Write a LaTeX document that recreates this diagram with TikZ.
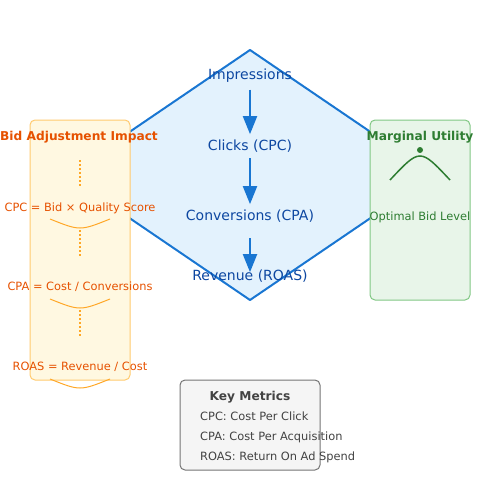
\documentclass[tikz,border=0pt]{standalone}
\usepackage{fontspec}
\setmainfont{DejaVu Sans}
\usetikzlibrary{arrows.meta,shapes}
\definecolor{hexfill}{HTML}{E3F2FD}
\definecolor{hexline}{HTML}{1976D2}
\definecolor{hextext}{HTML}{0D47A1}
\definecolor{bidfill}{HTML}{FFF8E1}
\definecolor{bidline}{HTML}{FFCA6E}
\definecolor{bidtext}{HTML}{E65100}
\definecolor{biddots}{HTML}{FFA726}
\definecolor{utilfill}{HTML}{E8F5E9}
\definecolor{utilline}{HTML}{81C784}
\definecolor{utiltext}{HTML}{2E7D32}
\definecolor{keyfill}{HTML}{F5F5F5}
\definecolor{keyline}{HTML}{757575}
\definecolor{keytext}{HTML}{424242}
\tikzset{
    flowtext/.style={text=hextext, font=\fontsize{14}{16}\selectfont, anchor=base, inner sep=0pt},
    flowarrow/.style={draw=hexline, line width=2pt, -{Triangle[width=14pt,length=18pt]}},
    panel/.style={rectangle, rounded corners=5pt, line width=1pt, minimum width=100pt},
    paneltitle/.style={font=\fontsize{12.2}{14}\selectfont\bfseries, anchor=base, inner sep=0pt},
    small/.style={font=\fontsize{11.4}{13}\selectfont, anchor=base, inner sep=0pt}
}
\begin{document}
\begin{tikzpicture}[x=1pt,y=-1pt]
        \useasboundingbox (0,0) rectangle (500,500);
        \draw[fill=hexfill, draw=hexline, line width=2pt, line join=round]
            (250,50) -- (375,135) -- (375,215) -- (250,300) -- (125,215) -- (125,135) -- cycle;
        \node[flowtext] (imp) at (250,80) {Impressions};
        \node[flowtext] (clk) at (250,150) {Clicks (CPC)};
        \node[flowtext] (conv) at (250,220) {Conversions (CPA)};
        \node[flowtext] (rev) at (250,280) {Revenue (ROAS)};
        \draw[flowarrow, shorten <=6.5pt, shorten >=5pt] (imp.south) -- (clk.north);
        \draw[flowarrow, shorten <=6pt, shorten >=5pt] (clk.south) -- (conv.north);
        \draw[flowarrow, shorten <=16pt, shorten >=-3pt] (conv.south) -- (rev.north);

        \node[panel, draw=bidline, fill=bidfill, minimum height=260pt] (bidbox) at (80,250) {};
        \node[paneltitle, text=bidtext] (bidtitle) at (79,140) {Bid Adjustment Impact};
        \node[small, text=bidtext] (cpc) at (80,211) {CPC = Bid × Quality Score};
        \node[small, text=bidtext] (cpa) at (80,290) {CPA = Cost / Conversions};
        \node[small, text=bidtext] (roas) at (80,370) {ROAS = Revenue / Cost};
        \foreach \y in {160,230,310}
            \draw[biddots, line width=2pt, dash pattern=on 2pt off 2pt] (80,\y) -- (80,\y+27);
        \foreach \y in {219,299,379}
            \draw[biddots, line width=1pt] (50,\y) .. controls (80,\y+12) .. (110,\y);

        \node[panel, draw=utilline, fill=utilfill, minimum height=180pt] (utilbox) at (420,210) {};
        \node[paneltitle, text=utiltext] (utiltitle) at (420,140) {Marginal Utility};
        \fill[utiltext] (420,150) circle (3pt);
        \draw[utiltext, line width=1.5pt] (390,180) .. controls (420,148) .. (450,180);
        \node[small, text=utiltext] (optimal) at (420,220) {Optimal Bid Level};

        \node[panel, draw=keyline, fill=keyfill, minimum width=140pt, minimum height=90pt] (keybox) at (250,425) {};
        \node[paneltitle, text=keytext] (keytitle) at (250,400) {Key Metrics};
        \node[small, text=keytext, anchor=base west] (key1) at (200,420) {CPC: Cost Per Click};
        \node[small, text=keytext, anchor=base west] (key2) at (200,440) {CPA: Cost Per Acquisition};
        \node[small, text=keytext, anchor=base west] (key3) at (200,460) {ROAS: Return On Ad Spend};
\end{tikzpicture}
\end{document}
